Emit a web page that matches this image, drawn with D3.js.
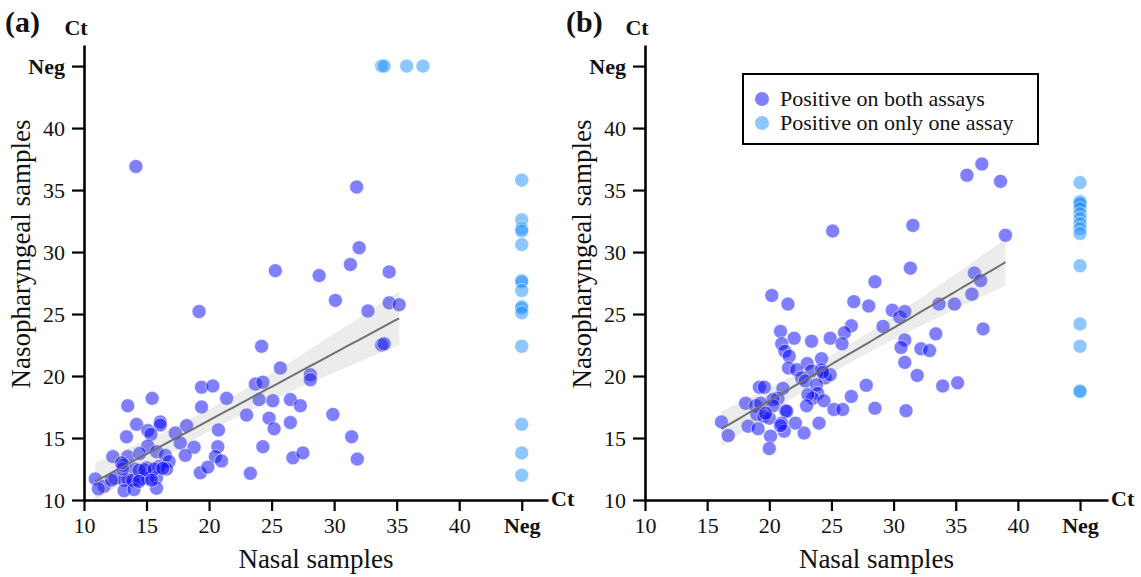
<!doctype html>
<html>
<head>
    <style>
        body { margin: 0; background: #fff; }
        text { font-family: "Liberation Serif", "Times New Roman", serif; fill: #111; }
    </style>
    <script src="https://d3js.org/d3.v7.min.js"></script>
</head>
<body>
    <svg width="1141" height="577"></svg>
    <script>
        var tickValues = [10, 15, 20, 25, 30, 35, 40, 45]
        var tickLabels = ["10", "15", "20", "25", "30", "35", "40", "Neg"]
        var negValue = 45

        // (a) positive on both assays
        var aBothNasal = [14.15, 31.8, 32.0, 31.3, 25.3, 28.8, 34.4, 30.1, 32.7, 34.4, 35.2, 19.2, 33.8, 34.0, 24.2, 25.7, 28.1, 28.1, 23.7, 24.3,
            19.4, 20.3, 21.4, 15.45, 13.5, 19.4, 24.0, 25.1, 26.5, 27.3, 29.9, 23.0, 24.8, 26.5, 25.2, 20.75, 18.2, 16.1, 16.1, 14.2,
            15.1, 15.35, 13.4, 31.4, 17.3, 17.7, 18.8, 20.7, 24.3, 15.1, 15.8, 16.5, 16.8, 18.1, 20.5, 21.0, 26.7, 27.5, 31.85, 12.3,
            13.5, 14.45, 13.2, 14.1, 15.0, 16.0, 16.6, 19.3, 19.9, 23.3, 10.9, 11.6, 11.15, 12.5, 13.2, 13.5, 13.9, 14.5, 15.1, 15.8,
            13.2, 14.0, 15.8, 13.1, 14.4, 14.85, 15.6, 16.3, 14.4, 12.2, 15.4, 13.0]
        var aBothNaso = [36.9, 35.25, 30.35, 29.0, 28.5, 28.1, 28.4, 26.1, 25.25, 25.9, 25.75, 25.2, 22.5, 22.6, 22.4, 20.65, 20.1, 19.7, 19.35, 19.5,
            19.1, 19.2, 18.2, 18.2, 17.6, 17.5, 18.1, 18.0, 18.1, 17.6, 16.9, 16.85, 16.6, 16.25, 15.75, 15.65, 16.0, 16.3, 16.05, 16.1,
            15.6, 15.3, 15.1, 15.1, 15.4, 14.6, 14.25, 14.3, 14.3, 14.35, 13.9, 13.6, 13.1, 13.6, 13.5, 13.15, 13.4, 13.8, 13.3, 13.5,
            13.5, 13.75, 12.8, 12.5, 12.6, 12.7, 12.5, 12.2, 12.65, 12.15, 11.7, 11.1, 10.9, 11.75, 11.6, 11.65, 11.6, 11.7, 11.75, 11.8,
            10.75, 10.85, 10.95, 12.5, 12.4, 12.45, 12.5, 12.55, 11.5, 11.6, 11.6, 13.0]
        // (a) positive on only one assay
        var aNasalNegNaso = [35.8, 32.6, 31.9, 31.7, 30.6, 27.7, 27.6, 26.9, 25.6, 25.5, 25.1, 22.4, 16.1, 13.8, 12.0]
        var aNasoNegNasal = [33.8, 34.0, 35.8, 37.1]

        // (b) positive on both assays
        var bBothNasal = [35.9, 37.1, 38.6, 25.1, 31.55, 39.0, 31.35, 28.5, 36.5, 37.0, 20.2, 21.5, 26.8, 28.0, 36.3, 29.9, 30.5, 30.9, 33.65, 34.9,
            29.15, 26.6, 26.05, 20.9, 22.0, 23.4, 24.9, 25.85, 37.2, 33.4, 30.9, 30.6, 32.2, 32.9, 30.9, 31.9, 33.95, 35.15, 27.8, 21.0,
            21.25, 21.6, 21.55, 24.2, 23.05, 23.4, 22.2, 22.6, 22.9, 24.2, 24.5, 24.9, 23.8, 23.9, 23.5, 23.1, 24.4, 26.6, 28.5, 25.2,
            25.9, 31.0, 23.0, 24.0, 22.8, 22.1, 21.1, 20.7, 20.3, 19.2, 19.6, 18.1, 18.9, 19.3, 19.0, 19.55, 20.0, 20.3, 21.3, 21.4,
            21.0, 21.2, 18.3, 19.1, 20.1, 20.0, 16.15, 16.7, 20.9, 24.3, 19.7]
        var bBothNaso = [36.2, 37.1, 35.7, 31.7, 32.15, 31.35, 28.7, 27.6, 28.3, 27.7, 26.5, 25.8, 26.0, 25.65, 26.6, 25.3, 24.75, 25.2, 25.8, 25.8,
            24.0, 24.05, 23.5, 23.6, 23.05, 22.8, 23.05, 22.6, 23.8, 23.4, 22.9, 22.3, 22.2, 22.05, 21.1, 20.05, 19.2, 19.45, 19.25, 22.6,
            22.0, 21.6, 20.65, 21.4, 21.0, 20.4, 20.5, 19.85, 19.6, 20.5, 19.85, 20.1, 19.3, 18.6, 18.2, 18.5, 18.0, 18.35, 17.4, 17.3,
            17.3, 17.2, 17.6, 16.2, 15.4, 16.2, 19.0, 18.2, 18.1, 19.1, 19.1, 17.8, 17.6, 17.8, 16.9, 16.75, 16.6, 17.6, 17.2, 17.15,
            16.2, 15.55, 15.95, 15.75, 15.15, 14.15, 16.3, 15.2, 16.0, 20.3, 17.0]
        // (b) positive on only one assay
        var bNasalNegNaso = [35.6, 34.1, 34.0, 33.9, 33.5, 33.1, 32.7, 32.3, 31.9, 31.5, 28.9, 24.2, 22.4, 18.8, 18.75]
        var bNasoNegNasal = []

        var legendLabels = ["Positive on both assays", "Positive on only one assay"]
        var bothColor = "#0000ff", oneColor = "#1e90ff"

        var svg = d3.select("svg")

        // least squares fit with 95% confidence band
        function fitLine(xs, ys) {
            var n = xs.length, mx = d3.mean(xs), my = d3.mean(ys)
            var sxx = d3.sum(xs, function (d) { return (d - mx) * (d - mx) })
            var sxy = d3.sum(xs, function (d, i) { return (d - mx) * (ys[i] - my) })
            var b = sxy / sxx, a = my - b * mx
            var s = Math.sqrt(d3.sum(xs, function (d, i) { var r = ys[i] - a - b * d; return r * r }) / (n - 2))
            var lo = d3.min(xs), hi = d3.max(xs)
            return d3.range(0, 61).map(function (k) {
                var x = lo + (hi - lo) * k / 60
                var se = s * Math.sqrt(1 / n + (x - mx) * (x - mx) / sxx)
                return { x: x, y: a + b * x, lo: a + b * x - 1.985 * se, hi: a + b * x + 1.985 * se }
            })
        }

        function drawPanel(p) {
            var x = d3.scaleLinear().domain([10, p.xMax]).range([p.left, p.right]),
                y = d3.scaleLinear().domain([10, 46.7]).range([500, 45])

            var g = svg.append("g")

            var pts = p.bothX.map(function (d, i) { return { x: d, y: p.bothY[i], c: bothColor } })
            p.negX.forEach(function (d) { pts.push({ x: negValue, y: d, c: oneColor }) })
            p.negY.forEach(function (d) { pts.push({ x: d, y: negValue, c: oneColor }) })

            g.selectAll(".pt")
                .data(pts)
                .enter().append("circle")
                .attr("class", "pt")
                .attr("cx", function (d) { return x(d.x) })
                .attr("cy", function (d) { return y(d.y) })
                .attr("r", 7)
                .attr("fill", function (d) { return d.c })
                .attr("fill-opacity", 0.5)
                .attr("stroke", "#fff")
                .attr("stroke-opacity", 0.7)
                .attr("stroke-width", 0.8)

            var fit = fitLine(p.bothX, p.bothY)
            g.append("path")
                .datum(fit)
                .attr("fill", "#808080")
                .attr("fill-opacity", 0.15)
                .attr("d", d3.area()
                    .x(function (d) { return x(d.x) })
                    .y0(function (d) { return y(d.lo) })
                    .y1(function (d) { return y(d.hi) }))
            g.append("path")
                .datum(fit)
                .attr("fill", "none")
                .attr("stroke", "#707070")
                .attr("stroke-width", 2)
                .attr("d", d3.line()
                    .x(function (d) { return x(d.x) })
                    .y(function (d) { return y(d.y) }))

            var xAxis = g.append("g")
                .attr("transform", "translate(0,500)")
                .call(d3.axisBottom(x).tickValues(tickValues)
                    .tickFormat(function (d, i) { return tickLabels[i] })
                    .tickSize(11).tickPadding(6).tickSizeOuter(0))
            var yAxis = g.append("g")
                .attr("transform", "translate(" + p.left + ",0)")
                .call(d3.axisLeft(y).tickValues(tickValues)
                    .tickFormat(function (d, i) { return tickLabels[i] })
                    .tickSize(12).tickPadding(7).tickSizeOuter(0))

            g.selectAll(".domain").attr("stroke", "#000").attr("stroke-width", 2.6)
            g.selectAll(".tick line").attr("stroke", "#000").attr("stroke-width", 2.2)
            g.selectAll(".tick text")
                .attr("fill", "#111")
                .style("font-family", '"Liberation Serif", serif')
                .style("font-size", "22px")
                .style("font-weight", function (d) { return d === negValue ? "bold" : "normal" })

            // axis end labels
            g.append("text")
                .attr("x", p.left - 8)
                .attr("y", 35)
                .attr("text-anchor", "middle")
                .style("font-size", "22px")
                .style("font-weight", "bold")
                .text("Ct")
            g.append("text")
                .attr("x", p.right + 3)
                .attr("y", 506)
                .style("font-size", "22px")
                .style("font-weight", "bold")
                .text("Ct")

            // panel letter
            g.append("text")
                .attr("x", p.left - 79)
                .attr("y", 32)
                .style("font-size", "30px")
                .style("font-weight", "bold")
                .text(p.letter)

            // X Axis Label
            g.append("text")
                .attr("x", (p.left + p.right) / 2)
                .attr("y", 568)
                .attr("text-anchor", "middle")
                .style("font-size", "27px")
                .text("Nasal samples")

            // Y Axis Label
            g.append("text")
                .attr("transform", "translate(" + (p.left - 54) + ",254) rotate(-90)")
                .attr("text-anchor", "middle")
                .style("font-size", "27px")
                .text("Nasopharyngeal samples")

            return { x: x, y: y }
        }

        drawPanel({ letter: "(a)", left: 84, right: 548, xMax: 47.1, bothX: aBothNasal, bothY: aBothNaso, negX: aNasalNegNaso, negY: aNasoNegNasal })
        drawPanel({ letter: "(b)", left: 645, right: 1108, xMax: 47.25, bothX: bBothNasal, bothY: bBothNaso, negX: bNasalNegNaso, negY: bNasoNegNasal })

        // Legend
        var legend = svg.append("g").attr("transform", "translate(743,74)")
        legend.append("rect")
            .attr("width", 295)
            .attr("height", 70)
            .attr("fill", "#fff")
            .attr("stroke", "#000")
            .attr("stroke-width", 2)
        legend.selectAll(".lg")
            .data(legendLabels)
            .enter().append("circle")
            .attr("cx", 19)
            .attr("cy", function (d, i) { return 25 + i * 24 })
            .attr("r", 7)
            .attr("fill", function (d, i) { return i === 0 ? bothColor : oneColor })
            .attr("fill-opacity", 0.5)
        legend.selectAll(".lt")
            .data(legendLabels)
            .enter().append("text")
            .attr("x", 37)
            .attr("y", function (d, i) { return 32 + i * 24 })
            .style("font-size", "22px")
            .text(function (d) { return d })
    </script>
</body>
</html>
